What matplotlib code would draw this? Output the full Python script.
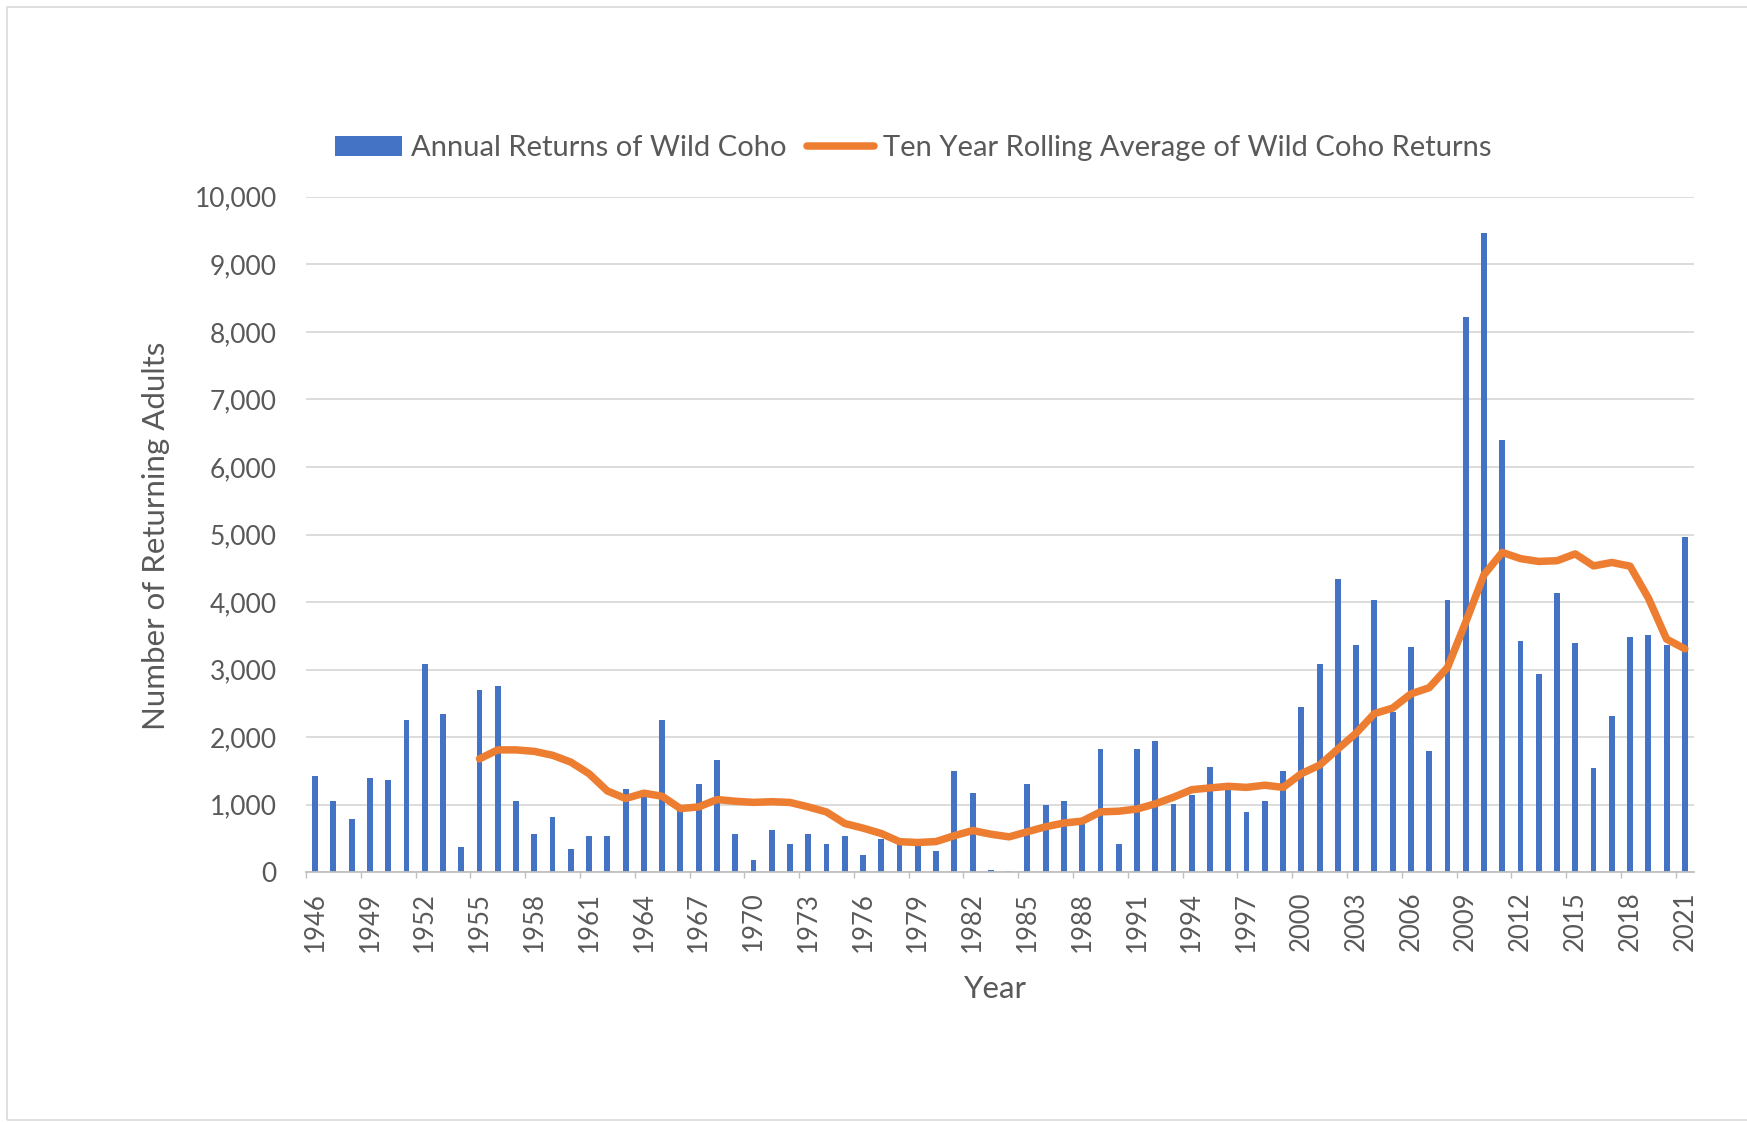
import matplotlib
matplotlib.use("Agg")
import matplotlib.pyplot as plt
import pandas as pd
from matplotlib.patches import Rectangle

# Annual wild coho returns, 1946-2021
years = list(range(1946, 2022))
returns = [
    1430, 1050, 790, 1400, 1360, 2250, 3080, 2350, 380, 2700,    # 1946-1955
    2760, 1050, 570, 820, 350, 530, 530, 1230, 1170, 2250,       # 1956-1965
    930, 1300, 1660, 570, 180, 630, 420, 570, 420, 540,          # 1966-1975
    250, 500, 450, 450, 320, 1500, 1180, 30, 25, 1300,           # 1976-1985
    990, 1050, 730, 1820, 420, 1820, 1950, 1010, 1140, 1560,     # 1986-1995
    1230, 890, 1050, 1500, 2450, 3080, 4340, 3360, 4030, 2380,   # 1996-2005
    3330, 1800, 4030, 8220, 9460, 6400, 3420, 2940, 4140, 3390,  # 2006-2015
    1550, 2310, 3480, 3510, 3370, 4970,                          # 2016-2021
]
y_ticks = [0, 1000, 2000, 3000, 4000, 5000, 6000, 7000, 8000, 9000, 10000]
bar_label = "Annual Returns of Wild Coho"
line_label = "Ten Year Rolling Average of Wild Coho Returns"

# ten-year trailing mean of the annual returns
rolling = pd.Series(returns, index=years).rolling(10).mean()

plt.rcParams["font.family"] = ["Lato", "DejaVu Sans"]
TXT = "#595959"
BLUE = "#4472C4"
ORANGE = "#ED7D31"
GRID = "#D9D9D9"

W, H = 1747, 1122
fig = plt.figure(figsize=(W / 100, H / 100), dpi=100)
fig.patch.set_facecolor("white")

# chart-area border
fig.add_artist(Rectangle((7 / W, 2 / H), (W + 20) / W, (H - 9) / H,
                         transform=fig.transFigure, fill=False,
                         edgecolor="#D9D9D9", linewidth=1.2))

ax = fig.add_axes([306 / W, 1 - 872.3 / H, (1694 - 306) / W, (872.3 - 196.7) / H])

pos = list(range(len(years)))
bars = ax.bar(pos, returns, width=0.32, color=BLUE, zorder=2, label=bar_label)

roll_pos = [p for p, v in zip(pos, rolling.values) if pd.notna(v)]
roll_val = [v for v in rolling.values if pd.notna(v)]
line, = ax.plot(roll_pos, roll_val, color=ORANGE, linewidth=5.4,
                solid_joinstyle="round", solid_capstyle="round", zorder=3,
                label=line_label)

ax.set_xlim(-0.5, len(years) - 0.5)
ax.set_ylim(0, 10000)
ax.set_yticks(y_ticks)
ax.set_yticklabels([f"{v:,}" for v in y_ticks])
ax.yaxis.grid(True, color=GRID, linewidth=1.3, zorder=0)
ax.set_axisbelow(True)

label_idx = pos[::3]
ax.set_xticks(label_idx)
ax.set_xticklabels([str(years[i]) for i in label_idx], rotation=90)
ax.set_xticks([i - 0.5 for i in label_idx], minor=True)

ax.tick_params(axis="y", length=0, pad=21, labelsize=19, labelcolor=TXT)
ax.tick_params(axis="x", which="major", length=0, pad=14, labelsize=18.5, labelcolor=TXT)
ax.tick_params(axis="x", which="minor", length=4, width=1, color="#BFBFBF")

for side in ["top", "right", "left"]:
    ax.spines[side].set_visible(False)
ax.spines["bottom"].set_color("#BFBFBF")
ax.spines["bottom"].set_linewidth(1.3)

fig.text(156 / W, 1 - 536 / H, "Number of Returning Adults", rotation=90,
         ha="center", va="center", fontsize=22.5, color=TXT)
fig.text(995 / W, 1 - 989 / H, "Year", ha="center", va="center",
         fontsize=22.5, color=TXT)

fig.legend(handles=[bars, line], labels=[bar_label, line_label],
           loc="center", bbox_to_anchor=(913 / W, 1 - 148 / H), ncol=2,
           frameon=False, fontsize=21, labelcolor=TXT, handlelength=2.3,
           handletextpad=0.3, columnspacing=0.7)

fig.savefig("out.png", dpi=100, facecolor="white")
